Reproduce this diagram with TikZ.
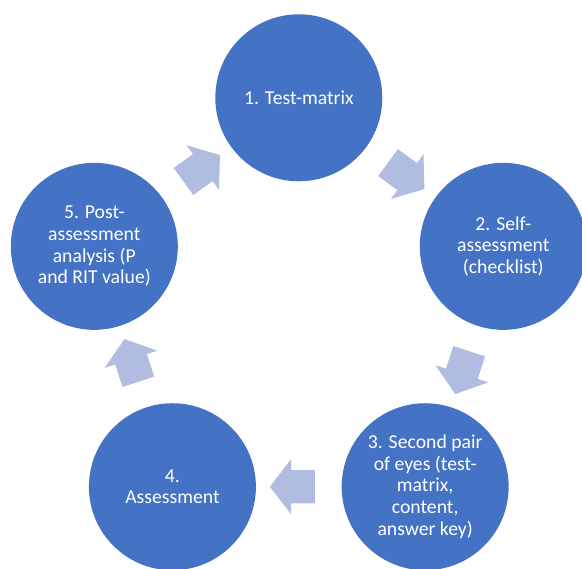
\documentclass[tikz,border=0pt]{standalone}
\usepackage{fontspec}
\setmainfont{Carlito}
\usepackage{tikz}
\usetikzlibrary{calc,shapes.arrows}
\definecolor{azul}{HTML}{4472C4}
\definecolor{azulclaro}{HTML}{B1BDE0}
\tikzstyle{fase}=[
	circle,
	fill=azul,
	text=white,
	minimum size=167,
	inner sep=0,
	align=center,
	font=\fontsize{19.7}{21.7}\selectfont]
\tikzstyle{flecha}=[
	single arrow,
	fill=azulclaro,
	minimum height=45,
	inner xsep=0,
	inner ysep=16.5,
	single arrow head extend=11pt,
	single arrow tip angle=105]

\begin{document}
\begin{tikzpicture}[x=1pt,y=1pt]
	\useasboundingbox (-298.8,-256.2) rectangle (283.2,312.8);
	% the five stages, clockwise from the top
	\node[fase] (matriz)	at (90:215)	{1. Test-matrix};
	\node[fase] (auto)		at (18:215)	{2. Self-\\assessment\\(checklist)};
	\node[fase] (ojos)		at (-54:215)	{3. Second pair\\of eyes (test-\\matrix,\\content,\\answer key)};
	\node[fase] (eval)		at (-126:215)	{4.\\Assessment};
	\node[fase] (post)		at (162:215)	{5. Post-\\assessment\\analysis (P\\and RIT value)};
	% block arrows halfway between neighbouring stages
	\foreach \a/\b/\ang in {matriz/auto/-36,auto/ojos/-108,ojos/eval/180,eval/post/108,post/matriz/36}
		\node[flecha,rotate=\ang] (f\a) at ($(\a)!0.5!(\b)$) {};
\end{tikzpicture}
\end{document}
